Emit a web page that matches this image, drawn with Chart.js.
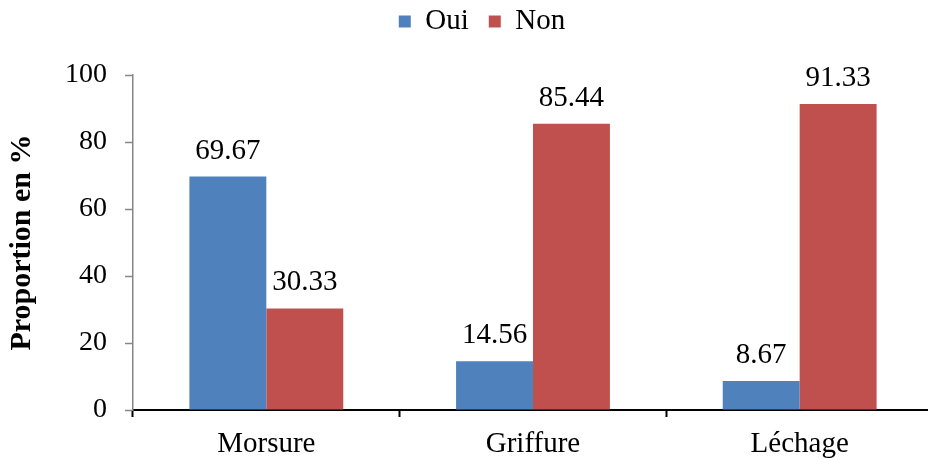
<!DOCTYPE html>
<html>
<head>
<meta charset="utf-8">
<script src="https://cdn.jsdelivr.net/npm/chart.js@4.4.1/dist/chart.umd.min.js"></script>
<style>
  html, body { margin: 0; padding: 0; background: #ffffff; }
  #wrap { width: 928px; height: 458px; }
</style>
</head>
<body>
<div id="wrap"><canvas id="c" width="928" height="458"></canvas></div>
<script>
// Categories and series
const categories = ['Morsure', 'Griffure', 'Léchage'];
const ouiValues = [69.67, 14.56, 8.67];
const nonValues = [30.33, 85.44, 91.33];
const seriesNames = ['Oui', 'Non'];
const yTicks = [0, 20, 40, 60, 80, 100];

const FONT = "'Liberation Serif', 'Times New Roman', serif";

// Writes each bar's value just above it
const valueLabels = {
  id: 'valueLabels',
  afterDatasetsDraw(chart) {
    const ctx = chart.ctx;
    ctx.save();
    ctx.font = '29px ' + FONT;
    ctx.fillStyle = '#000000';
    ctx.textAlign = 'center';
    ctx.textBaseline = 'alphabetic';
    chart.data.datasets.forEach((ds, i) => {
      chart.getDatasetMeta(i).data.forEach((bar, j) => {
        ctx.fillText(ds.data[j].toFixed(2), bar.x, bar.y - 18);
      });
    });
    ctx.restore();
  }
};

// Places the legend block near the top, a little right of centre,
// and lets the category axis run slightly past the right edge
const layoutTweaks = {
  id: 'layoutTweaks',
  afterLayout(chart) {
    const lg = chart.legend;
    if (lg) {
      const w = lg.right - lg.left;
      const h = lg.bottom - lg.top;
      lg.left = 482 - w / 2; lg.right = lg.left + w;
      lg.top = -13; lg.bottom = lg.top + h;
    }
    const x = chart.scales.x;
    x.right = chart.width + 5;
    x.width = x.right - x.left;
    x.configure();
  }
};

new Chart(document.getElementById('c'), {
  type: 'bar',
  data: {
    labels: categories,
    datasets: [
      { label: seriesNames[0], data: ouiValues, backgroundColor: '#4F81BD', borderWidth: 0 },
      { label: seriesNames[1], data: nonValues, backgroundColor: '#C0504D', borderWidth: 0 }
    ]
  },
  options: {
    responsive: false,
    animation: false,
    devicePixelRatio: 1,
    layout: { padding: 0 },
    datasets: {
      bar: { categoryPercentage: 0.577, barPercentage: 1.0 }
    },
    plugins: {
      tooltip: { enabled: false },
      legend: {
        position: 'top',
        labels: {
          font: { family: FONT, size: 29 },
          color: '#000000',
          boxWidth: 12,
          boxHeight: 12,
          padding: 20
        }
      }
    },
    scales: {
      x: {
        grid: {
          offset: true,
          drawOnChartArea: false,
          drawTicks: true,
          tickLength: 7,
          tickWidth: 2,
          color: '#000000'
        },
        border: { display: true, color: '#000000', width: 2 },
        ticks: {
          font: { family: FONT, size: 29 },
          color: '#000000',
          padding: 10,
          maxRotation: 0
        },
        afterFit(scale) {
          scale.height = 48;
          scale.paddingRight = 0;
          scale.paddingLeft = 0;
        }
      },
      y: {
        min: 0,
        max: 100,
        afterBuildTicks(scale) {
          scale.ticks = yTicks.map(v => ({ value: v }));
        },
        grid: {
          drawOnChartArea: false,
          drawTicks: true,
          tickLength: 8,
          tickWidth: 1.5,
          color: '#868686'
        },
        border: { display: true, color: '#868686', width: 1.5 },
        ticks: {
          font: { family: FONT, size: 28 },
          color: '#000000',
          padding: 18
        },
        title: {
          display: true,
          text: 'Proportion en %',
          font: { family: FONT, size: 30, weight: 'bold' },
          color: '#000000',
          padding: { top: 4, bottom: 0 }
        },
        afterFit(scale) {
          scale.width = 133;
          scale.paddingTop = 75;
        }
      }
    }
  },
  plugins: [valueLabels, layoutTweaks]
});
</script>
</body>
</html>
